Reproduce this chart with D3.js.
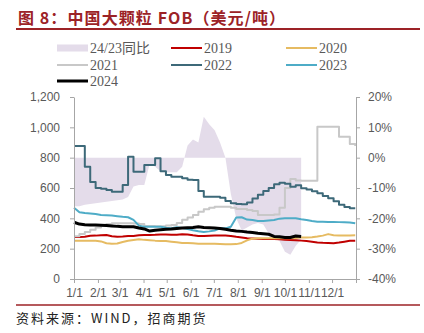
<!DOCTYPE html>
<html>
<head>
<meta charset="utf-8">
<script src="https://cdn.jsdelivr.net/npm/d3@7/dist/d3.min.js"></script>
<style>
  html, body { margin: 0; padding: 0; background: #fff; }
  svg { display: block; }
</style>
</head>
<body>
<div id="chart"></div>
<script>
// weekly sample dates (non-leap calendar)
const dates = ["1/1","1/8","1/15","1/22","1/29","2/5","2/12","2/19","2/26","3/5","3/12","3/19","3/26",
  "4/2","4/9","4/16","4/23","4/30","5/7","5/14","5/21","5/28","6/4","6/11","6/18","6/25",
  "7/2","7/9","7/16","7/23","7/30","8/6","8/13","8/20","8/27","9/3","9/10","9/17","9/24",
  "10/1","10/8","10/15","10/22","10/29","11/5","11/12","11/19","11/26","12/3","12/10","12/17","12/24","12/31"];

const s2019 = [277,277,279,285,286,289,290,282,279,280, 283,284,289,290,290,291,293,293,291,292,
  295,294,288,283,284,285,286,286,286,284, 278,274,268,267,266,264,264,263,262,258,
  257,256,253,250,246,241,239,238,236,240, 246,252,253];
const s2020 = [253,253,253,253,252,248,236,232,234,244, 252,257,262,258,256,253,251,250,246,242,
  238,237,235,233,233,233,233,231,229,229, 230,238,255,266,268,268,268,268,268,269,
  268,270,273,274,276,280,286,296,288,287, 287,287,288];
const s2021 = [282,296,310,325,340,352,362,367,367,367, 367,366,362,350,350,348,348,352,356,370,
  390,405,422,444,460,470,477,477,477,470, 461,461,455,448,422,422,422,425,470,600,
  660,650,648,648,648,1004,1004,1004,1004,938, 938,890,877];
const s2022 = [877,877,740,640,600,595,587,576,576,620, 806,707,707,751,751,796,710,685,675,675,
  664,655,653,580,543,543,543,535,515,500, 495,493,505,530,555,580,600,625,635,628,
  608,618,598,590,578,565,548,532,512,490, 475,466,466];
const s2023 = [470,440,435,432,428,422,420,418,414,410, 407,390,352,345,345,345,345,338,335,342,
  336,330,322,315,310,314,320,334,334,345, 405,407,392,389,382,382,386,389,398,400,
  400,400,394,389,383,378,377,376,376,375, 374,372,367];
const s2024 = [374,362,358,356,356,355,353,350,347,345, 345,344,336,330,316,322,325,328,330,333,
  336,338,340,344,340,338,336,333,328,322, 317,314,310,307,302,299,295,281,278,274,
  274,283,280];
// 24/23 year-on-year, %
const ratio2423 = [-16,-16,-15.5,-15.3,-15,-14.8,-14.5,-14.3,-14,-13.8, -13,-9.5,-9,-9,-2,-3,-4.5,-4.8,-4.8,-4.8,
  -3,4,6,5,13.5,11,9,5,0,-12, -20,-24,-23,-22,-21.5,-22,-25,-26.5,-27.5,-31,
  -32,-29,-27];

const monthLabels = ["1/1","2/1","3/1","4/1","5/1","6/1","7/1","8/1","9/1","10/1","11/1","12/1"];
const leftTicks = [0, 200, 400, 600, 800, 1000, 1200];
const rightTicks = [-40, -30, -20, -10, 0, 10, 20];

const W = 424, H = 333;
const box = { left: 74, right: 356, top: 97, bottom: 279 };
const axisColor = '#a6a6a6';
const labelColor = '#595959';
const dark = '#9c2226';

const parse = d3.timeParse('%m/%d');
const start = parse('1/1');
const end = d3.timeYear.offset(start, 1);
const days = dates.map(parse);

const x = d3.scaleTime().domain([start, end]).range([box.left, box.right]);
const yL = d3.scaleLinear().domain([0, 1200]).range([box.bottom, box.top]);
const yR = d3.scaleLinear().domain([-40, 20]).range([box.bottom, box.top]);

const series = [
  { name: '2019', values: s2019, color: '#c00000', width: 2, curve: d3.curveLinear },
  { name: '2020', values: s2020, color: '#e6bb62', width: 2, curve: d3.curveLinear },
  { name: '2021', values: s2021, color: '#c8c8c8', width: 2, curve: d3.curveStepAfter },
  { name: '2022', values: s2022, color: '#3d6979', width: 2, curve: d3.curveStepAfter },
  { name: '2023', values: s2023, color: '#4eacc7', width: 2, curve: d3.curveLinear },
  { name: '2024', values: s2024, color: '#000000', width: 3, curve: d3.curveLinear }
];
const areaColor = '#e4dcea';

const svg = d3.select('#chart')
  .append('svg')
  .attr('width', W)
  .attr('height', H);

// title + rules
svg.append('text')
  .attr('x', 18)
  .attr('y', 24)
  .attr('fill', dark)
  .style('font-family', '"Noto Sans CJK SC", "Liberation Sans", sans-serif')
  .style('font-size', '16px')
  .style('font-weight', 'bold')
  .style('letter-spacing', '1.1px')
  .text('图 8：中国大颗粒 FOB（美元/吨）');

svg.append('line')
  .attr('x1', 16).attr('x2', 420)
  .attr('y1', 29).attr('y2', 29)
  .attr('stroke', dark)
  .attr('stroke-width', 2);

svg.append('line')
  .attr('x1', 16).attr('x2', 420)
  .attr('y1', 305).attr('y2', 305)
  .attr('stroke', dark)
  .attr('stroke-width', 1.5);

svg.append('text')
  .attr('x', 16)
  .attr('y', 323)
  .attr('fill', '#222')
  .style('font-family', '"Noto Sans CJK SC", sans-serif')
  .style('font-size', '13px')
  .style('letter-spacing', '2px')
  .text('资料来源：WIND，招商期货');

// yoy area behind the lines
const area = d3.area()
  .x((d, i) => x(days[i]))
  .y0(yR(0))
  .y1(d => yR(d));

svg.append('path')
  .datum(ratio2423)
  .attr('d', area)
  .attr('fill', areaColor);

series.forEach(s => {
  const line = d3.line()
    .x((d, i) => x(days[i]))
    .y(d => yL(d))
    .curve(s.curve);

  svg.append('path')
    .datum(s.values)
    .attr('d', line)
    .attr('fill', 'none')
    .attr('stroke', s.color)
    .attr('stroke-width', s.width)
    .attr('stroke-linejoin', 'round');
});

// axes
function styleAxis(g){
  g.select('.domain').attr('stroke', axisColor);
  g.selectAll('.tick line').attr('stroke', axisColor);
  g.selectAll('.tick text')
    .attr('fill', labelColor)
    .style('font-family', '"Liberation Sans", Arial, sans-serif')
    .style('font-size', '12px');
}

svg.append('g')
  .attr('transform', `translate(${box.left},0)`)
  .call(d3.axisLeft(yL).tickValues(leftTicks).tickFormat(d3.format(',')).tickSize(4).tickSizeOuter(0).tickPadding(10))
  .call(styleAxis);

svg.append('g')
  .attr('transform', `translate(${box.right},0)`)
  .call(d3.axisRight(yR).tickValues(rightTicks).tickFormat(d => d + '%').tickSize(4).tickSizeOuter(0).tickPadding(8))
  .call(styleAxis);

const monthTicks = d3.timeMonth.range(start, end).concat([end]);
svg.append('g')
  .attr('transform', `translate(0,${box.bottom})`)
  .call(d3.axisBottom(x).tickValues(monthTicks).tickFormat((d, i) => monthLabels[i] || '').tickSize(4).tickSizeOuter(0).tickPadding(5))
  .call(styleAxis);

// legend
const legendItems = [{ name: '24/23同比', color: areaColor, area: true }].concat(series);
const colX = [57, 171, 286];
const rowY = [48, 65, 81];

const legend = svg.append('g');
legendItems.forEach((d, i) => {
  const lx = colX[i % 3];
  const ly = rowY[Math.floor(i / 3)];
  if(d.area){
    legend.append('rect')
      .attr('x', lx).attr('y', ly - 3.5)
      .attr('width', 31).attr('height', 7)
      .attr('fill', d.color);
  } else {
    legend.append('line')
      .attr('x1', lx).attr('x2', lx + 31)
      .attr('y1', ly).attr('y2', ly)
      .attr('stroke', d.color)
      .attr('stroke-width', d.width);
  }
  legend.append('text')
    .attr('x', lx + 33)
    .attr('y', ly)
    .attr('dy', '0.35em')
    .attr('fill', labelColor)
    .style('font-family', '"Liberation Serif", "Times New Roman", "Noto Sans CJK SC", serif')
    .style('font-size', '14px')
    .text(d.name);
});
</script>
</body>
</html>
